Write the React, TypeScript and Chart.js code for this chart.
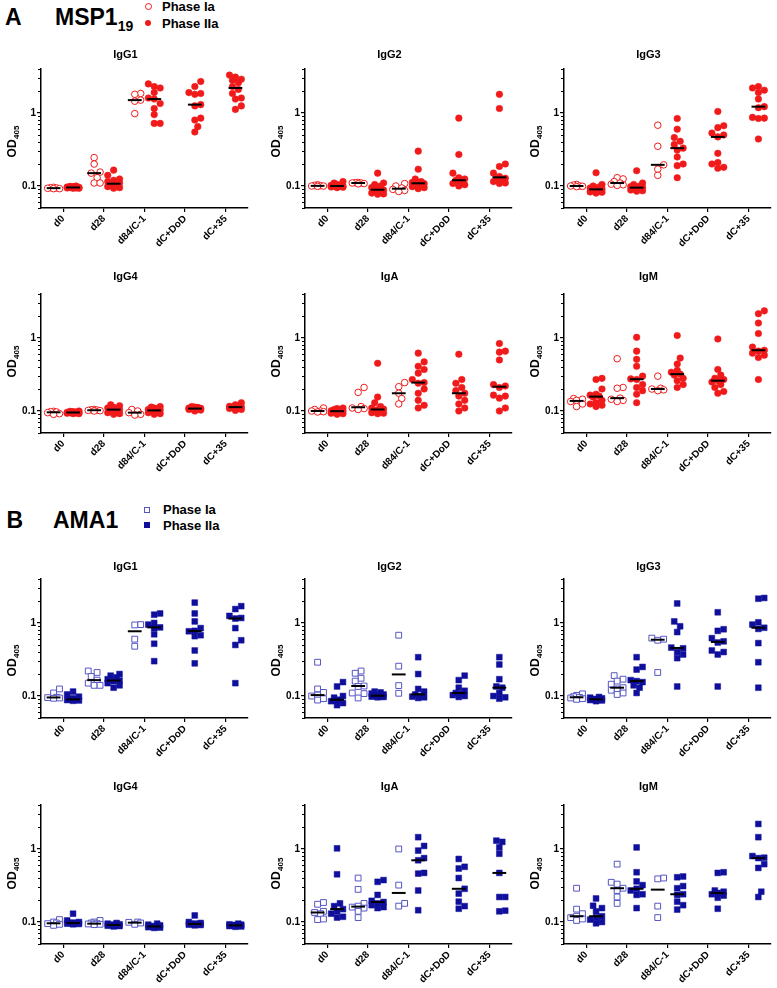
import React, { useEffect, useRef } from 'react';
import { Chart, registerables } from 'chart.js';
Chart.register(...registerables);

const FONT = "'Liberation Sans', Arial, Helvetica, sans-serif";

// ---------- axis labels ----------
const TIMEPOINTS = ['d0', 'd28', 'd84/C-1', 'dC+DoD', 'dC+35'];
const Y_LABEL_TICKS = [0.1, 1];
const Y_MINOR_TICKS = [0.05, 0.06, 0.07, 0.08, 0.09, 0.2, 0.3, 0.4, 0.5, 0.6, 0.7, 0.8, 0.9, 2, 3, 4];
const Y_MIN = 0.05;
const Y_MAX = 4;

// ---------- MSP1-19 data (Phase Ia: d0, d28, d84 ; Phase IIa: d0, d28, d84/C-1, dC+DoD, dC+35) ----------
const msp1IgG1Ia = [
  [0.096, 0.095, 0.094, 0.093, 0.092, 0.092],
  [0.245, 0.2, 0.155, 0.15, 0.13, 0.11, 0.11],
  [1.85, 1.8, 1.5, 1.45, 0.98],
];
const msp1IgG1IIa = [
  [0.1, 0.099, 0.098, 0.097, 0.096, 0.096, 0.095, 0.095, 0.094, 0.094, 0.093, 0.093],
  [0.165, 0.14, 0.125, 0.12, 0.115, 0.11, 0.105, 0.105, 0.1, 0.098, 0.095, 0.093],
  [2.5, 2.3, 2.2, 1.9, 1.6, 1.55, 1.35, 1.15, 0.95, 0.72, 0.72],
  [2.7, 2.3, 1.9, 1.85, 1.8, 1.3, 1.25, 0.85, 0.8, 0.65, 0.55],
  [3.3, 3.1, 2.9, 2.8, 2.6, 2.3, 2.1, 1.85, 1.6, 1.55, 1.25, 1.12],
];
const msp1IgG2Ia = [
  [0.104, 0.102, 0.101, 0.1, 0.1, 0.099],
  [0.112, 0.111, 0.11, 0.11, 0.108, 0.107],
  [0.108, 0.1, 0.094, 0.09, 0.087, 0.084],
];
const msp1IgG2IIa = [
  [0.115, 0.11, 0.105, 0.103, 0.102, 0.1, 0.1, 0.1, 0.099, 0.097, 0.096, 0.095],
  [0.15, 0.11, 0.105, 0.1, 0.095, 0.09, 0.088, 0.085, 0.083, 0.08, 0.078, 0.077],
  [0.3, 0.17, 0.125, 0.115, 0.112, 0.11, 0.108, 0.105, 0.1, 0.098, 0.095, 0.092],
  [0.85, 0.27, 0.15, 0.13, 0.125, 0.12, 0.115, 0.112, 0.108, 0.104, 0.1],
  [1.8, 1.15, 0.2, 0.185, 0.15, 0.135, 0.128, 0.125, 0.12, 0.115, 0.11, 0.108],
];
const msp1IgG3Ia = [
  [0.105, 0.103, 0.1, 0.1, 0.099, 0.098],
  [0.13, 0.125, 0.115, 0.11, 0.106, 0.104, 0.102],
  [0.68, 0.35, 0.195, 0.17, 0.14],
];
const msp1IgG3IIa = [
  [0.152, 0.105, 0.1, 0.097, 0.094, 0.091, 0.089, 0.087, 0.085, 0.083, 0.082, 0.08],
  [0.162, 0.11, 0.105, 0.1, 0.098, 0.096, 0.094, 0.092, 0.09, 0.088, 0.086, 0.085],
  [0.84, 0.6, 0.46, 0.41, 0.37, 0.33, 0.31, 0.25, 0.2, 0.19, 0.13],
  [1.05, 0.67, 0.63, 0.53, 0.5, 0.47, 0.28, 0.21, 0.2, 0.18, 0.175],
  [2.3, 2.2, 2.05, 1.9, 1.55, 1.22, 1.18, 0.87, 0.85, 0.84, 0.44],
];
const msp1IgG4Ia = [
  [0.099, 0.098, 0.097, 0.095, 0.092, 0.09],
  [0.105, 0.104, 0.103, 0.102, 0.101, 0.1],
  [0.105, 0.1, 0.095, 0.09, 0.088],
];
const msp1IgG4IIa = [
  [0.1, 0.099, 0.098, 0.097, 0.096, 0.096, 0.095, 0.095, 0.094, 0.093, 0.092, 0.092],
  [0.122, 0.118, 0.112, 0.11, 0.107, 0.105, 0.104, 0.1, 0.097, 0.095, 0.092, 0.09],
  [0.115, 0.113, 0.11, 0.108, 0.105, 0.103, 0.101, 0.099, 0.097, 0.095, 0.092, 0.09],
  [0.115, 0.113, 0.112, 0.11, 0.109, 0.108, 0.107, 0.106, 0.105, 0.103, 0.1],
  [0.13, 0.122, 0.118, 0.116, 0.114, 0.113, 0.112, 0.11, 0.108, 0.105, 0.102],
];
const msp1IgAIa = [
  [0.11, 0.105, 0.1, 0.1, 0.098, 0.097],
  [0.21, 0.18, 0.115, 0.11, 0.108, 0.105],
  [0.245, 0.215, 0.175, 0.148, 0.125],
];
const msp1IgAIIa = [
  [0.11, 0.108, 0.105, 0.103, 0.101, 0.1, 0.099, 0.097, 0.095, 0.093, 0.092, 0.09],
  [0.45, 0.155, 0.13, 0.115, 0.11, 0.106, 0.104, 0.1, 0.098, 0.095, 0.093, 0.092],
  [0.62, 0.47, 0.41, 0.37, 0.33, 0.27, 0.245, 0.24, 0.2, 0.175, 0.14, 0.12, 0.11],
  [0.6, 0.27, 0.24, 0.21, 0.19, 0.175, 0.16, 0.14, 0.125, 0.11, 0.1],
  [0.84, 0.66, 0.64, 0.5, 0.23, 0.22, 0.21, 0.165, 0.16, 0.15, 0.11, 0.1],
];
const msp1IgMIa = [
  [0.148, 0.145, 0.14, 0.135, 0.125, 0.115],
  [0.52, 0.21, 0.205, 0.15, 0.145, 0.14, 0.135],
  [0.3, 0.205, 0.2, 0.195, 0.19],
];
const msp1IgMIIa = [
  [0.28, 0.27, 0.2, 0.17, 0.165, 0.16, 0.155, 0.14, 0.13, 0.125, 0.12, 0.115],
  [1.02, 0.66, 0.51, 0.41, 0.3, 0.275, 0.27, 0.23, 0.21, 0.19, 0.17, 0.13],
  [1.08, 0.53, 0.44, 0.36, 0.34, 0.32, 0.31, 0.28, 0.26, 0.23, 0.21],
  [0.97, 0.37, 0.31, 0.28, 0.27, 0.26, 0.25, 0.23, 0.21, 0.185, 0.175],
  [2.35, 2.15, 1.6, 1.15, 0.75, 0.68, 0.66, 0.62, 0.58, 0.54, 0.27],
];

// ---------- AMA1 data ----------
const ama1IgG1Ia = [
  [0.125, 0.11, 0.096, 0.095, 0.094, 0.093],
  [0.22, 0.21, 0.185, 0.165, 0.15, 0.14, 0.14],
  [0.95, 0.94, 0.6, 0.48],
];
const ama1IgG1IIa = [
  [0.115, 0.105, 0.098, 0.093, 0.09, 0.089, 0.088, 0.087, 0.086],
  [0.2, 0.19, 0.18, 0.17, 0.163, 0.16, 0.15, 0.14, 0.13],
  [1.35, 1.3, 1.0, 0.95, 0.87, 0.85, 0.7, 0.52, 0.3],
  [1.9, 1.35, 1.05, 0.85, 0.78, 0.77, 0.68, 0.66, 0.42, 0.28],
  [1.7, 1.55, 1.25, 1.17, 1.15, 0.85, 0.58, 0.5, 0.15],
];
const ama1IgG2Ia = [
  [0.29, 0.125, 0.112, 0.103, 0.1, 0.092, 0.088],
  [0.22, 0.205, 0.175, 0.16, 0.137, 0.135, 0.11, 0.108, 0.094],
  [0.68, 0.256, 0.139, 0.109],
];
const ama1IgG2IIa = [
  [0.155, 0.135, 0.1, 0.095, 0.089, 0.087, 0.085, 0.08, 0.075],
  [0.115, 0.112, 0.108, 0.105, 0.102, 0.1, 0.099, 0.098, 0.097, 0.096],
  [0.34, 0.2, 0.125, 0.115, 0.105, 0.1, 0.098, 0.096, 0.094],
  [0.19, 0.165, 0.13, 0.118, 0.11, 0.107, 0.103, 0.1, 0.097],
  [0.34, 0.27, 0.17, 0.135, 0.13, 0.11, 0.1, 0.096, 0.092],
];
const ama1IgG3Ia = [
  [0.107, 0.102, 0.098, 0.096, 0.094, 0.092, 0.09],
  [0.19, 0.17, 0.16, 0.145, 0.13, 0.125, 0.12, 0.11, 0.105],
  [0.62, 0.6, 0.58, 0.21],
];
const ama1IgG3IIa = [
  [0.097, 0.095, 0.093, 0.091, 0.09, 0.089, 0.088, 0.087, 0.085],
  [0.34, 0.25, 0.23, 0.165, 0.16, 0.155, 0.14, 0.13, 0.11],
  [1.85, 1.05, 0.9, 0.75, 0.46, 0.45, 0.4, 0.37, 0.33, 0.135],
  [1.4, 0.82, 0.78, 0.62, 0.56, 0.54, 0.42, 0.4, 0.37, 0.135],
  [2.2, 2.15, 1.02, 0.95, 0.86, 0.83, 0.53, 0.29, 0.13],
];
const ama1IgG4Ia = [
  [0.108, 0.1, 0.097, 0.095, 0.093, 0.09],
  [0.105, 0.1, 0.097, 0.095, 0.094, 0.093, 0.092],
  [0.1, 0.099, 0.097, 0.093],
];
const ama1IgG4IIa = [
  [0.13, 0.105, 0.1, 0.098, 0.097, 0.096, 0.095, 0.094, 0.093],
  [0.097, 0.095, 0.093, 0.092, 0.091, 0.09, 0.089, 0.088, 0.087],
  [0.095, 0.092, 0.09, 0.088, 0.087, 0.086, 0.085, 0.084, 0.083],
  [0.123, 0.1, 0.097, 0.095, 0.094, 0.093, 0.092, 0.091, 0.09],
  [0.095, 0.093, 0.092, 0.091, 0.09, 0.089, 0.088, 0.087, 0.086],
];
const ama1IgAIa = [
  [0.185, 0.175, 0.14, 0.135, 0.13, 0.11, 0.108],
  [0.4, 0.28, 0.18, 0.165, 0.16, 0.155, 0.14, 0.115],
  [1.0, 0.32, 0.18, 0.165],
];
const ama1IgAIIa = [
  [1.02, 0.45, 0.18, 0.165, 0.15, 0.14, 0.13, 0.118, 0.115],
  [0.375, 0.355, 0.235, 0.195, 0.188, 0.18, 0.17, 0.16, 0.155],
  [1.45, 1.1, 0.95, 0.75, 0.7, 0.47, 0.46, 0.27, 0.145],
  [0.73, 0.57, 0.54, 0.4, 0.285, 0.245, 0.19, 0.165, 0.152],
  [1.3, 1.25, 1.05, 0.86, 0.47, 0.22, 0.22, 0.143, 0.14],
];
const ama1IgMIa = [
  [0.29, 0.15, 0.13, 0.12, 0.115, 0.11, 0.105],
  [0.62, 0.35, 0.33, 0.29, 0.27, 0.22, 0.18],
  [0.4, 0.39, 0.165, 0.115],
];
const ama1IgMIIa = [
  [0.21, 0.167, 0.155, 0.14, 0.12, 0.115, 0.108, 0.1, 0.096],
  [1.05, 0.48, 0.36, 0.32, 0.285, 0.27, 0.24, 0.235, 0.155],
  [0.42, 0.41, 0.31, 0.29, 0.24, 0.235, 0.19, 0.17, 0.148],
  [0.48, 0.47, 0.27, 0.26, 0.25, 0.24, 0.23, 0.215, 0.152],
  [2.2, 1.45, 0.8, 0.76, 0.75, 0.62, 0.55, 0.26, 0.22],
];

// ---------- styles ----------
const RED = '#f01a1a';
const BLUE_FILL = '#0f0f9c';
const BLUE_OPEN = '#5656c4';

const STYLES: Record<string, any> = {
  msp1: { shape: 'circle', radius: 3.3, iaColor: RED, iiaColor: RED },
  ama1: { shape: 'rect', radius: 4.1, iaColor: BLUE_OPEN, iiaColor: BLUE_FILL },
};

// ---------- layout ----------
const X_MIN = -0.55;
const X_MAX = 4.55;
const PLOT_W = 210;
const PLOT_H = 139;
const Y_SCALE_W = 41;
const TOP_BOX = 30;
const X_SCALE_H = 55;
const RIGHT_PAD = 2;
const CANVAS_W = Y_SCALE_W + PLOT_W + RIGHT_PAD;
const CANVAS_H = TOP_BOX + PLOT_H + X_SCALE_H;
const COL_OFFSET = 0.24;
const MEDIAN_HALF = 0.17;
const ROW_AXIS_TOP = [69, 294, 579, 805];
const ROW_TITLE_GAP = [14, 17, 12, 18];
const ROW_YTITLE_SHIFT = [3, -2, 12, -1];
const COL_AXIS_LEFT = [41, 305, 564];

const PANELS = [
  { title: 'IgG1', antigen: 'msp1', ia: msp1IgG1Ia, iia: msp1IgG1IIa, row: 0, col: 0 },
  { title: 'IgG2', antigen: 'msp1', ia: msp1IgG2Ia, iia: msp1IgG2IIa, row: 0, col: 1 },
  { title: 'IgG3', antigen: 'msp1', ia: msp1IgG3Ia, iia: msp1IgG3IIa, row: 0, col: 2 },
  { title: 'IgG4', antigen: 'msp1', ia: msp1IgG4Ia, iia: msp1IgG4IIa, row: 1, col: 0 },
  { title: 'IgA', antigen: 'msp1', ia: msp1IgAIa, iia: msp1IgAIIa, row: 1, col: 1 },
  { title: 'IgM', antigen: 'msp1', ia: msp1IgMIa, iia: msp1IgMIIa, row: 1, col: 2 },
  { title: 'IgG1', antigen: 'ama1', ia: ama1IgG1Ia, iia: ama1IgG1IIa, row: 2, col: 0 },
  { title: 'IgG2', antigen: 'ama1', ia: ama1IgG2Ia, iia: ama1IgG2IIa, row: 2, col: 1 },
  { title: 'IgG3', antigen: 'ama1', ia: ama1IgG3Ia, iia: ama1IgG3IIa, row: 2, col: 2 },
  { title: 'IgG4', antigen: 'ama1', ia: ama1IgG4Ia, iia: ama1IgG4IIa, row: 3, col: 0 },
  { title: 'IgA', antigen: 'ama1', ia: ama1IgAIa, iia: ama1IgAIIa, row: 3, col: 1 },
  { title: 'IgM', antigen: 'ama1', ia: ama1IgMIa, iia: ama1IgMIIa, row: 3, col: 2 },
];

function median(values: number[]): number {
  const s = [...values].sort((a, b) => a - b);
  const n = s.length;
  return n % 2 ? s[(n - 1) / 2] : (s[n / 2 - 1] + s[n / 2]) / 2;
}

// simple beeswarm spread (like a scatter dot plot) in approximate pixel space
function swarm(values: number[], center: number) {
  const pxPerX = PLOT_W / (X_MAX - X_MIN);
  const pxPerDecade = PLOT_H / Math.log10(Y_MAX / Y_MIN);
  const D = 6;
  const STEP = 3;
  const ks = [0, 1, -1, 2, -2];
  const order = values.map((_, i) => i).sort((a, b) => values[a] - values[b]);
  const placed: { px: number; py: number }[] = [];
  const out: { x: number; y: number }[] = new Array(values.length);
  for (const i of order) {
    const py = Math.log10(values[i]) * pxPerDecade;
    let best = 0;
    let bestScore = -Infinity;
    for (const k of ks) {
      const px = k * STEP;
      let minD = Infinity;
      for (const p of placed) minD = Math.min(minD, Math.hypot(p.px - px, p.py - py));
      if (minD >= D) { best = px; break; }
      if (minD > bestScore + 0.3) { bestScore = minD; best = px; }
    }
    placed.push({ px: best, py });
    out[i] = { x: center + best / pxPerX, y: values[i] };
  }
  return out;
}

const minorTicksPlugin = {
  id: 'minorTicks',
  afterDraw(chart: any) {
    const s = chart.scales.y;
    const ctx = chart.ctx;
    ctx.save();
    ctx.strokeStyle = '#000';
    ctx.lineWidth = 1;
    for (const v of Y_MINOR_TICKS) {
      const y = Math.round(s.getPixelForValue(v)) + 0.5;
      ctx.beginPath();
      ctx.moveTo(s.right - 3, y);
      ctx.lineTo(s.right, y);
      ctx.stroke();
    }
    ctx.restore();
  },
};

const odTitlePlugin = {
  id: 'odTitle',
  afterDraw(chart: any, _args: any, opts: any) {
    const { ctx, chartArea } = chart;
    const x = chartArea.left - 29;
    const y = (chartArea.top + chartArea.bottom) / 2 + (opts.shift || 0);
    ctx.save();
    ctx.translate(x, y);
    ctx.rotate(-Math.PI / 2);
    ctx.fillStyle = '#000';
    ctx.textBaseline = 'alphabetic';
    ctx.textAlign = 'left';
    ctx.font = `bold 12px ${FONT}`;
    const w1 = ctx.measureText('OD').width;
    ctx.font = `bold 8px ${FONT}`;
    const w2 = ctx.measureText('405').width;
    const start = -(w1 + w2 + 0.5) / 2;
    ctx.font = `bold 12px ${FONT}`;
    ctx.fillText('OD', start, 4.3);
    ctx.font = `bold 8px ${FONT}`;
    ctx.fillText('405', start + w1 + 0.5, 7);
    ctx.restore();
  },
};

function Panel({ cfg }: { cfg: any }) {
  const ref = useRef<HTMLCanvasElement>(null);
  useEffect(() => {
    const st = STYLES[cfg.antigen];
    const cols: any[] = [];
    cfg.ia.forEach((vals: number[], i: number) => cols.push({ vals, cx: i - COL_OFFSET, open: true }));
    cfg.iia.forEach((vals: number[], i: number) => cols.push({ vals, cx: i + COL_OFFSET, open: false }));
    const datasets: any[] = [];
    for (const c of cols) {
      const m = median(c.vals);
      datasets.push({
        data: [{ x: c.cx - MEDIAN_HALF, y: m }, { x: c.cx + MEDIAN_HALF, y: m }],
        showLine: true,
        borderColor: '#000',
        borderWidth: 2,
        pointRadius: 0,
        order: 0,
      });
    }
    for (const c of cols) {
      datasets.push({
        data: swarm(c.vals, c.cx),
        showLine: false,
        pointStyle: st.shape,
        pointRadius: st.radius,
        backgroundColor: c.open ? '#ffffff' : st.iiaColor,
        borderColor: c.open ? st.iaColor : st.iiaColor,
        borderWidth: c.open ? 1 : 0.5,
        order: 1,
      });
    }
    const gap = ROW_TITLE_GAP[cfg.row];
    const padBottom = gap - 6.6;
    const padTop = TOP_BOX - 13.2 - padBottom;
    const tickFont = { family: FONT, size: 10, weight: 'bold' as const };
    const chart = new Chart(ref.current as HTMLCanvasElement, {
      type: 'scatter',
      data: { datasets },
      options: {
        animation: false,
        responsive: false,
        events: [],
        layout: { padding: { left: 0, right: RIGHT_PAD, top: 0, bottom: 0 } },
        plugins: {
          legend: { display: false },
          tooltip: { enabled: false },
          title: {
            display: true,
            text: cfg.title,
            color: '#000',
            font: { family: FONT, size: 11, weight: 'bold' },
            padding: { top: padTop, bottom: padBottom },
          },
          odTitle: { shift: ROW_YTITLE_SHIFT[cfg.row] },
        } as any,
        scales: {
          x: {
            type: 'linear',
            min: X_MIN,
            max: X_MAX,
            afterBuildTicks: (s: any) => { s.ticks = TIMEPOINTS.map((_, i) => ({ value: i })); },
            afterFit: (s: any) => { s.height = X_SCALE_H; },
            ticks: {
              callback: (v: any) => TIMEPOINTS[Math.round(Number(v))] ?? '',
              minRotation: 45,
              maxRotation: 45,
              color: '#000',
              font: tickFont,
              padding: 1,
            },
            grid: { display: true, drawOnChartArea: false, drawTicks: true, tickLength: 4, color: '#000', lineWidth: 1.2 },
            border: { display: true, color: '#000', width: 1.5 },
          },
          y: {
            type: 'logarithmic',
            min: Y_MIN,
            max: Y_MAX,
            afterBuildTicks: (s: any) => { s.ticks = Y_LABEL_TICKS.map((v) => ({ value: v })); },
            afterFit: (s: any) => { s.width = Y_SCALE_W; },
            ticks: {
              callback: (v: any) => String(v),
              color: '#000',
              font: tickFont,
              padding: 1,
            },
            grid: { display: true, drawOnChartArea: false, drawTicks: true, tickLength: 4, color: '#000', lineWidth: 1.2 },
            border: { display: true, color: '#000', width: 1.5 },
          },
        } as any,
      },
      plugins: [minorTicksPlugin, odTitlePlugin],
    } as any);
    return () => chart.destroy();
  }, [cfg]);
  const left = COL_AXIS_LEFT[cfg.col] - Y_SCALE_W;
  const top = ROW_AXIS_TOP[cfg.row] - TOP_BOX;
  return (
    <canvas
      ref={ref}
      width={CANVAS_W}
      height={CANVAS_H}
      style={{ position: 'absolute', left, top, width: CANVAS_W, height: CANVAS_H, display: 'block' }}
    />
  );
}

const abs = (l: number, t: number, extra: any = {}) => ({ position: 'absolute' as const, left: l, top: t, ...extra });

export default function App() {
  const big = { font: `bold 23px ${FONT}`, lineHeight: '24px', whiteSpace: 'nowrap' as const, color: '#000' };
  const leg = { font: `bold 13px ${FONT}`, lineHeight: '13px', whiteSpace: 'nowrap' as const, color: '#000' };
  return (
    <div style={{ position: 'absolute', left: 0, top: 0, width: 777, height: 988, background: '#fff', overflow: 'hidden' }}>
      {/* Section A header */}
      <div style={abs(5, 4.9, big)}>A</div>
      <div style={abs(55, 4.9, big)}>
        MSP1<span style={{ fontSize: 14, position: 'relative', top: 6 }}>19</span>
      </div>
      <span style={abs(144.5, 2.5, { width: 7, height: 7, borderRadius: '50%', border: `1px solid ${RED}`, boxSizing: 'border-box', background: '#fff' })} />
      <div style={abs(162, -0.3, leg)}>Phase Ia</div>
      <span style={abs(144.7, 19.7, { width: 6.6, height: 6.6, borderRadius: '50%', background: RED })} />
      <div style={abs(162, 16.7, leg)}>Phase IIa</div>

      {/* Section B header */}
      <div style={abs(6.5, 508.2, big)}>B</div>
      <div style={abs(53, 508.2, big)}>AMA1</div>
      <span style={abs(144, 506.5, { width: 6, height: 6, border: `1px solid ${BLUE_OPEN}`, boxSizing: 'border-box', background: '#fff' })} />
      <div style={abs(163, 502.6, leg)}>Phase Ia</div>
      <span style={abs(144, 522, { width: 6, height: 6, background: BLUE_FILL })} />
      <div style={abs(163, 518.6, leg)}>Phase IIa</div>

      {PANELS.map((p, i) => (
        <Panel key={i} cfg={p} />
      ))}
    </div>
  );
}
